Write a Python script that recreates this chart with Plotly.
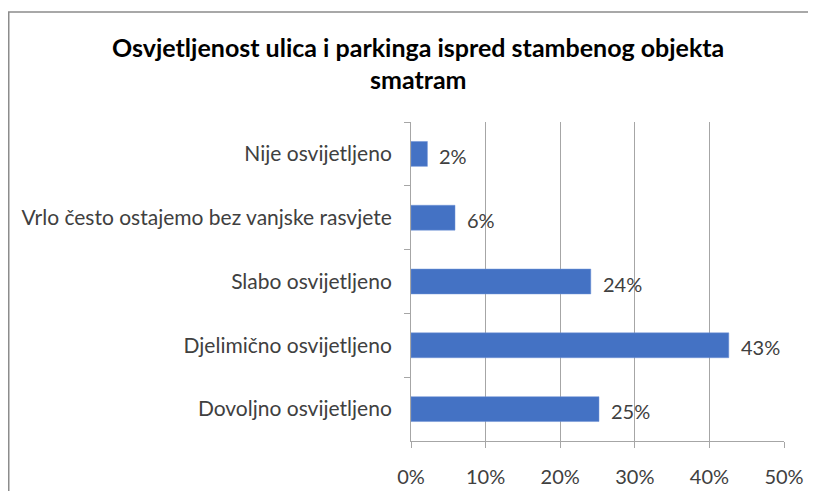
import plotly.graph_objects as go

categories = ["Nije osvijetljeno", "Vrlo često ostajemo bez vanjske rasvjete",
              "Slabo osvijetljeno", "Djelimično osvijetljeno", "Dovoljno osvijetljeno"]
values = [2.2, 5.9, 24.1, 42.6, 25.2]
labels = ["2%", "6%", "24%", "43%", "25%"]
x_ticks = [0, 10, 20, 30, 40, 50]
x_tick_labels = ["0%", "10%", "20%", "30%", "40%", "50%"]
title_lines = ["Osvjetljenost ulica i parkinga ispred stambenog objekta", "smatram"]

# page body has an 8px default margin, so the canvas is 808x483
W, H = 808, 483
L, R, T, B = 403, 32, 114, 50
pw, ph = W - L - R, H - T - B

FONT = "Lato"
TXT = "#404040"

fig = go.Figure(go.Bar(
    y=categories, x=values, orientation="h",
    marker=dict(color="#4472C4", line=dict(color="#6f93d6", width=0.5)),
    width=0.39, hoverinfo="skip",
))

for c, v, t in zip(categories, values, labels):
    fig.add_annotation(x=v, y=c, text=t, showarrow=False, xanchor="left",
                       xshift=10, yshift=-2, font=dict(family=FONT, size=20, color=TXT))

def px_to_paper_x(px):
    return (px - L) / pw

def px_to_paper_y(py):
    return (H - B - py) / ph

# title, two centred lines
for i, line in enumerate(title_lines):
    fig.add_annotation(x=px_to_paper_x(410), y=px_to_paper_y(39 + 32 * i),
                       xref="paper", yref="paper", text=f"<b>{line}</b>",
                       showarrow=False, xanchor="center", yanchor="middle",
                       font=dict(family=FONT, size=25, color="#000000"))

# chart frame (top and left edges visible)
fig.add_shape(type="rect", xref="paper", yref="paper",
              x0=px_to_paper_x(0.75), x1=px_to_paper_x(830),
              y0=px_to_paper_y(500), y1=px_to_paper_y(4),
              line=dict(color="#8c8c8c", width=1.5), layer="below")

fig.update_layout(
    width=W, height=H,
    margin=dict(l=L, r=R, t=T, b=B),
    paper_bgcolor="white", plot_bgcolor="white",
    showlegend=False,
    xaxis=dict(range=[0, 50], tickvals=x_ticks, ticktext=x_tick_labels,
               showgrid=True, gridcolor="#a6a6a6", gridwidth=1,
               showline=True, linecolor="#a6a6a6", linewidth=1,
               ticks="outside", ticklen=6, tickcolor="#a6a6a6",
               zeroline=False, fixedrange=True, ticklabelstandoff=12,
               automargin=False,
               tickfont=dict(family=FONT, size=20, color=TXT)),
    yaxis=dict(type="category", autorange="reversed",
               showline=True, linecolor="#a6a6a6", linewidth=1,
               ticks="outside", ticklen=6, tickcolor="#a6a6a6",
               tickson="boundaries", showgrid=False, fixedrange=True,
               ticklabelstandoff=14, automargin=False,
               tickfont=dict(family=FONT, size=21, color=TXT)),
)

fig.write_html("out.html")
